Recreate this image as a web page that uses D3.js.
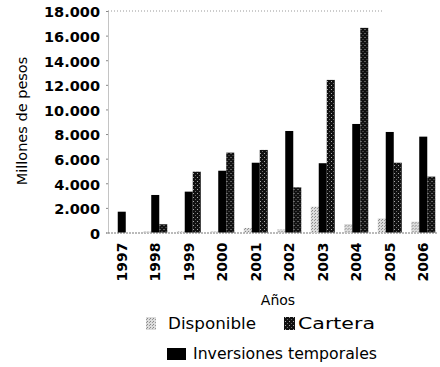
<!DOCTYPE html>
<html><head><meta charset="utf-8">
<script src="https://cdn.jsdelivr.net/npm/d3@7"></script>
<style>body{margin:0;background:#fff}svg{display:block}</style>
</head><body>
<svg id="c" width="440" height="367"></svg>
<script>
const years = ["1997","1998","1999","2000","2001","2002","2003","2004","2005","2006"];
const series = ["Disponible","Inversiones temporales","Cartera"];
const disponible = [0, 80, 80, 80, 370, 250, 2100, 690, 1150, 880];
const inversiones = [1690, 3050, 3320, 5020, 5670, 8250, 5630, 8820, 8170, 7790];
const cartera = [0, 670, 4940, 6490, 6710, 3670, 12400, 16630, 5670, 4540];
const yTicks = [0,2000,4000,6000,8000,10000,12000,14000,16000,18000];
const yTickLabels = ["0","2.000","4.000","6.000","8.000","10.000","12.000","14.000","16.000","18.000"];

const values = {"Disponible": disponible, "Inversiones temporales": inversiones, "Cartera": cartera};
const fills = {"Disponible": "url(#pDisp)", "Inversiones temporales": "#000", "Cartera": "url(#pCart)"};

const svg = d3.select("#c");
const FONT = "'DejaVu Sans', sans-serif";
const defs = svg.append("defs");
const p1 = defs.append("pattern").attr("id","pDisp").attr("patternUnits","userSpaceOnUse").attr("width",3).attr("height",3);
p1.append("rect").attr("width",3).attr("height",3).attr("fill","#dcdcdc");
p1.append("rect").attr("width",1).attr("height",1).attr("fill","#888");
p1.append("rect").attr("x",2).attr("y",1).attr("width",1).attr("height",1).attr("fill","#999");
const p2 = defs.append("pattern").attr("id","pCart").attr("patternUnits","userSpaceOnUse").attr("width",4).attr("height",4);
p2.append("rect").attr("width",4).attr("height",4).attr("fill","#111");
p2.append("rect").attr("x",1).attr("y",1).attr("width",1).attr("height",1).attr("fill","#aaa");
p2.append("rect").attr("x",3).attr("y",3).attr("width",1).attr("height",1).attr("fill","#666");

const x0 = d3.scaleBand().domain(years).range([105, 440]).padding(0);
const x1 = d3.scaleBand().domain(series).range([0, x0.bandwidth()]).paddingInner(0).paddingOuter(0.59);
const y = d3.scaleLinear().domain([0, 18000]).range([232.5, 11]);

// frame lines
svg.append("line").attr("x1",108).attr("x2",384).attr("y1",y(18000)).attr("y2",y(18000))
  .attr("stroke","#999").attr("stroke-width",1).attr("stroke-dasharray","1,2");
svg.append("line").attr("x1",108).attr("x2",438).attr("y1",y(0)+0.5).attr("y2",y(0)+0.5)
  .attr("stroke","#777").attr("stroke-width",1).attr("stroke-dasharray","2,1");

// y axis
const yAxis = d3.axisLeft(y).tickValues(yTicks).tickSize(2).tickFormat((d,i)=>yTickLabels[i]).tickPadding(6);
const gy = svg.append("g").attr("transform","translate(108,0)").call(yAxis);
gy.select(".domain").attr("stroke","#888").attr("stroke-dasharray","1,1");
gy.selectAll(".tick line").attr("stroke","#888");
gy.selectAll(".tick text").attr("font-family",FONT).attr("font-weight","bold").attr("font-size",14.5)
  .attr("fill","#000").attr("dy","0.4em");

// bars
const groups = svg.append("g").selectAll("g").data(years).join("g")
  .attr("transform", d => `translate(${x0(d)},0)`);
groups.selectAll("rect").data((d,i) => series.map(s => ({s, v: values[s][i]})))
  .join("rect")
  .attr("x", d => x1(d.s))
  .attr("width", x1.bandwidth())
  .attr("y", d => y(d.v))
  .attr("height", d => y(0) - y(d.v))
  .attr("fill", d => fills[d.s]);

// x axis labels
const xAxis = d3.axisBottom(x0).tickSize(0).tickPadding(0);
const gx = svg.append("g").attr("transform", `translate(0,${y(0)})`).call(xAxis);
gx.select(".domain").remove();
gx.selectAll(".tick text").attr("font-family",FONT).attr("font-weight","bold").attr("font-size",14)
  .attr("fill","#000").attr("text-anchor","end").attr("dy","0.35em")
  .attr("transform","translate(0,10) rotate(-90)").attr("x",0).attr("y",0);

// axis titles
svg.append("text").attr("x",278).attr("y",305).attr("text-anchor","middle")
  .attr("font-family",FONT).attr("font-size",14).text("Años");
svg.append("text").attr("transform","translate(27,121) rotate(-90)").attr("text-anchor","middle")
  .attr("font-family",FONT).attr("font-size",14.5).text("Millones de pesos");

// legend
const legend = [
  {s:"Disponible", sx:146, sy:317, sw:10, sh:13, tx:168, ty:329, tl:88},
  {s:"Cartera", sx:284, sy:317, sw:11, sh:13, tx:298, ty:329, tl:77},
  {s:"Inversiones temporales", sx:167, sy:348, sw:19, sh:12, tx:193, ty:359, tl:184}
];
const lg = svg.append("g").selectAll("g").data(legend).join("g");
lg.append("rect").attr("x",d=>d.sx).attr("y",d=>d.sy).attr("width",d=>d.sw).attr("height",d=>d.sh)
  .attr("fill",d=>fills[d.s]);
lg.append("text").attr("x",d=>d.tx).attr("y",d=>d.ty).attr("font-family",FONT).attr("font-size",15.5)
  .attr("fill","#000").attr("textLength",d=>d.tl).attr("lengthAdjust","spacingAndGlyphs").text(d=>d.s);
</script>
</body></html>
